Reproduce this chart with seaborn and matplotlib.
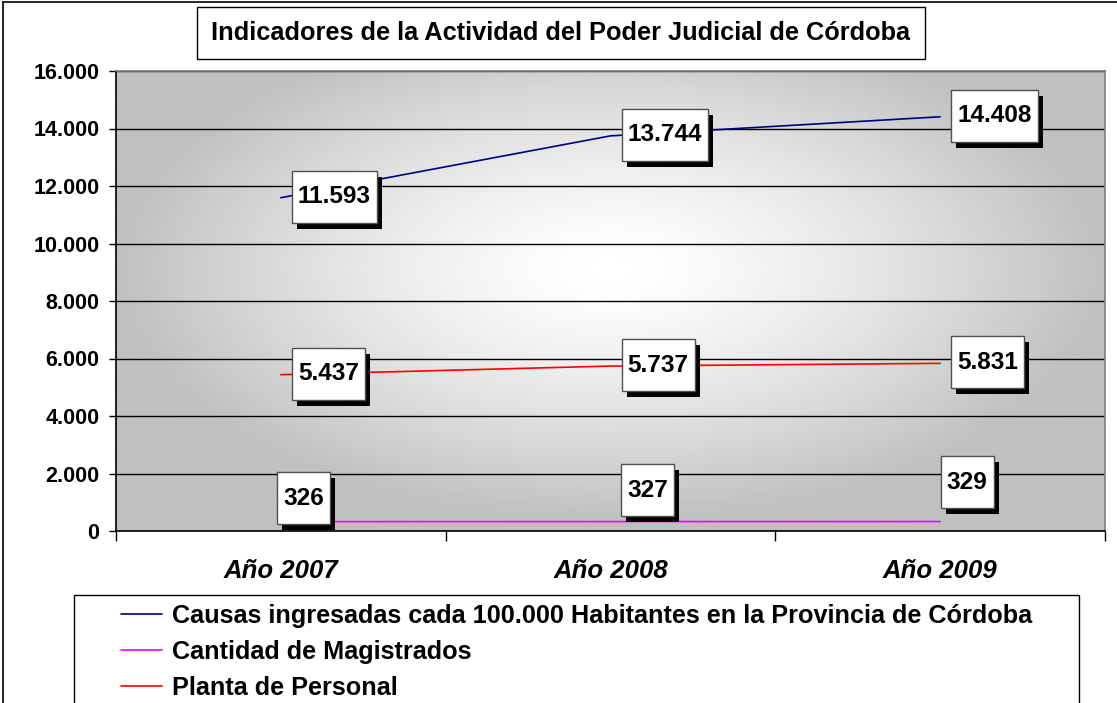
import numpy as np
import pandas as pd
import matplotlib
matplotlib.use("Agg")
import matplotlib.pyplot as plt
from matplotlib.patches import Rectangle
from matplotlib.lines import Line2D
import seaborn as sns

# Datos
anios = ["Año 2007", "Año 2008", "Año 2009"]
causas = [11593, 13744, 14408]
magistrados = [326, 327, 329]
personal = [5437, 5737, 5831]

serie_causas = "Causas ingresadas cada 100.000 Habitantes en la Provincia de Córdoba"
serie_magistrados = "Cantidad de Magistrados"
serie_personal = "Planta de Personal"
series = [serie_causas, serie_magistrados, serie_personal]
colores = {serie_causas: "#000080", serie_magistrados: "#ff00ff", serie_personal: "#ff0000"}

y_ticks = list(range(0, 16001, 2000))

W, H = 1117, 703


def miles(v):
    return f"{v:,}".replace(",", ".")


sns.set_style("white")
plt.rcParams["font.family"] = ["Liberation Sans", "DejaVu Sans"]
plt.rcParams.update({
    "text.color": "black",
    "axes.labelcolor": "black",
    "xtick.color": "black",
    "ytick.color": "black",
})

df = pd.DataFrame({
    "pos": list(range(len(anios))) * 3,
    "valor": causas + magistrados + personal,
    "serie": [serie_causas] * 3 + [serie_magistrados] * 3 + [serie_personal] * 3,
})

fig = plt.figure(figsize=(W / 100, H / 100), dpi=100)
fig.patch.set_facecolor("white")
ax = fig.add_axes([116 / W, 1 - 531 / H, (1105 - 116) / W, (531 - 71) / H])
ax.set_xlim(-0.5, 2.5)
ax.set_ylim(0, 16000)

# fondo con degradado desde el centro (estilo Excel)
ny, nx = 300, 500
yy, xx = np.mgrid[0:1:ny * 1j, 0:1:nx * 1j]
r = np.sqrt(((xx - 0.5) / 0.5) ** 2 + ((yy - 0.57) / 0.55) ** 2)
r = np.clip(r, 0, 1)
fondo = 1 - 0.25 * r ** 1.4
ax.imshow(fondo, cmap="gray", vmin=0, vmax=1, origin="lower", aspect="auto",
          extent=[-0.5, 2.5, 0, 16000], zorder=0, interpolation="bilinear")

sns.lineplot(data=df, x="pos", y="valor", hue="serie", hue_order=series,
             palette=colores, linewidth=1.2, ax=ax)

ax.set_axisbelow(True)
ax.yaxis.grid(True, color="black", linewidth=1)
ax.xaxis.grid(False)
ax.set_xlabel("")
ax.set_ylabel("")

ax.set_yticks(y_ticks)
ax.set_yticklabels([miles(v) for v in y_ticks], fontweight="bold", fontsize=15.5)
ax.tick_params(axis="y", direction="out", length=5, width=1, pad=7, color="black", left=True)

ax.set_xticks(range(len(anios)))
ax.set_xticklabels(anios, fontweight="bold", fontstyle="italic", fontsize=18.5)
ax.set_xticks([-0.5, 0.5, 1.5, 2.5], minor=True)
ax.tick_params(axis="x", which="major", length=0, pad=20)
ax.tick_params(axis="x", which="minor", direction="out", length=7, width=1, color="black", bottom=True)

for lado in ["left", "bottom"]:
    ax.spines[lado].set_color("black")
    ax.spines[lado].set_linewidth(1.2)
for lado in ["top", "right"]:
    ax.spines[lado].set_color("#808080")
    ax.spines[lado].set_linewidth(1.2)

# leyenda
handles, labels = ax.get_legend_handles_labels()
if ax.get_legend() is not None:
    ax.get_legend().remove()
fig.legend(handles, labels, loc="upper left", bbox_to_anchor=(121 / W, 1 - 604 / H),
           frameon=False, prop={"weight": "bold", "size": 18.2}, handlelength=1.62,
           handletextpad=0.4, labelspacing=0.47, borderpad=0, borderaxespad=0)
fig.add_artist(Rectangle((74 / W, -0.05), (1079 - 74) / W, 1 - 595 / H + 0.05,
                         transform=fig.transFigure, facecolor="none", edgecolor="black",
                         linewidth=1, zorder=3))

# título en recuadro
fig.add_artist(Rectangle((197 / W, 1 - 59 / H), (925 - 197) / W, 52 / H,
                         transform=fig.transFigure, facecolor="white", edgecolor="black",
                         linewidth=1, zorder=3))
fig.text((197 + 925) / 2 / W, 1 - 33 / H, "Indicadores de la Actividad del Poder Judicial de Córdoba",
         ha="center", va="center", fontsize=18.3, fontweight="bold", zorder=4)

# borde del área del gráfico
fig.add_artist(Line2D([3 / W, 3 / W], [0, 1 - 2 / H], transform=fig.transFigure, color="black", linewidth=1.2))
fig.add_artist(Line2D([3 / W, 1], [1 - 2 / H, 1 - 2 / H], transform=fig.transFigure, color="black", linewidth=1.2))

# etiquetas de datos con recuadro y sombra
renderer = fig.canvas.get_renderer()
etiquetas = []
for i, v in enumerate(causas):
    etiquetas.append((i, v, "left", 11, 1))
for i, v in enumerate(personal):
    etiquetas.append((i, v, "left", 11, 1))
desplaz_mag = [(23, 23.5), (37, 31.5), (27, 39.5)]
for i, v in enumerate(magistrados):
    etiquetas.append((i, v, "center", desplaz_mag[i][0], desplaz_mag[i][1]))

for i, v, modo, dx, dy in etiquetas:
    px, py = ax.transData.transform((i, v))
    t = fig.text(0, 0, miles(v), ha="center", va="center", fontsize=17.6,
                 fontweight="bold", color="black", zorder=7)
    bb = t.get_window_extent(renderer)
    w = bb.width + 12
    h = 52
    if modo == "left":
        cx = px + dx + w / 2
    else:
        cx = px + dx
    cy = py + dy
    t.set_position((cx / W, cy / H))
    fig.add_artist(Rectangle(((cx - w / 2 + 5) / W, (cy - h / 2 - 6) / H), w / W, h / H,
                             transform=fig.transFigure, facecolor="black", edgecolor="none", zorder=5))
    fig.add_artist(Rectangle(((cx - w / 2) / W, (cy - h / 2) / H), w / W, h / H,
                             transform=fig.transFigure, facecolor="white", edgecolor="#505050",
                             linewidth=1, zorder=6))

fig.savefig("out.png", dpi=100)
